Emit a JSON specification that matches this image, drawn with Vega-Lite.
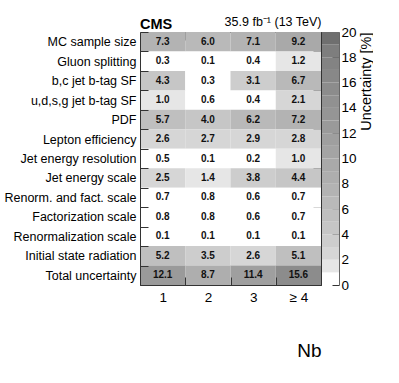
{
  "$schema": "https://vega.github.io/schema/vega-lite/v6.json",
  "background": "white",
  "padding": {"left": 3, "top": 15, "right": 0, "bottom": 0},
  "spacing": 0,
  "config": {
    "view": {"stroke": null},
    "font": "Liberation Sans",
    "axis": {"labelFont": "Liberation Sans", "titleFont": "Liberation Sans", "labelColor": "#000", "titleColor": "#000", "domainColor": "#333", "tickColor": "#333", "grid": false}
  },
  "datasets": {
    "cells": [
      {"row": "MC sample size", "col": "1", "value": 7.3},
      {"row": "MC sample size", "col": "2", "value": 6.0},
      {"row": "MC sample size", "col": "3", "value": 7.1},
      {"row": "MC sample size", "col": "≥ 4", "value": 9.2},
      {"row": "Gluon splitting", "col": "1", "value": 0.3},
      {"row": "Gluon splitting", "col": "2", "value": 0.1},
      {"row": "Gluon splitting", "col": "3", "value": 0.4},
      {"row": "Gluon splitting", "col": "≥ 4", "value": 1.2},
      {"row": "b,c jet b-tag SF", "col": "1", "value": 4.3},
      {"row": "b,c jet b-tag SF", "col": "2", "value": 0.3},
      {"row": "b,c jet b-tag SF", "col": "3", "value": 3.1},
      {"row": "b,c jet b-tag SF", "col": "≥ 4", "value": 6.7},
      {"row": "u,d,s,g jet b-tag SF", "col": "1", "value": 1.0},
      {"row": "u,d,s,g jet b-tag SF", "col": "2", "value": 0.6},
      {"row": "u,d,s,g jet b-tag SF", "col": "3", "value": 0.4},
      {"row": "u,d,s,g jet b-tag SF", "col": "≥ 4", "value": 2.1},
      {"row": "PDF", "col": "1", "value": 5.7},
      {"row": "PDF", "col": "2", "value": 4.0},
      {"row": "PDF", "col": "3", "value": 6.2},
      {"row": "PDF", "col": "≥ 4", "value": 7.2},
      {"row": "Lepton efficiency", "col": "1", "value": 2.6},
      {"row": "Lepton efficiency", "col": "2", "value": 2.7},
      {"row": "Lepton efficiency", "col": "3", "value": 2.9},
      {"row": "Lepton efficiency", "col": "≥ 4", "value": 2.8},
      {"row": "Jet energy resolution", "col": "1", "value": 0.5},
      {"row": "Jet energy resolution", "col": "2", "value": 0.1},
      {"row": "Jet energy resolution", "col": "3", "value": 0.2},
      {"row": "Jet energy resolution", "col": "≥ 4", "value": 1.0},
      {"row": "Jet energy scale", "col": "1", "value": 2.5},
      {"row": "Jet energy scale", "col": "2", "value": 1.4},
      {"row": "Jet energy scale", "col": "3", "value": 3.8},
      {"row": "Jet energy scale", "col": "≥ 4", "value": 4.4},
      {"row": "Renorm. and fact. scale", "col": "1", "value": 0.7},
      {"row": "Renorm. and fact. scale", "col": "2", "value": 0.8},
      {"row": "Renorm. and fact. scale", "col": "3", "value": 0.6},
      {"row": "Renorm. and fact. scale", "col": "≥ 4", "value": 0.7},
      {"row": "Factorization scale", "col": "1", "value": 0.8},
      {"row": "Factorization scale", "col": "2", "value": 0.8},
      {"row": "Factorization scale", "col": "3", "value": 0.6},
      {"row": "Factorization scale", "col": "≥ 4", "value": 0.7},
      {"row": "Renormalization scale", "col": "1", "value": 0.1},
      {"row": "Renormalization scale", "col": "2", "value": 0.1},
      {"row": "Renormalization scale", "col": "3", "value": 0.1},
      {"row": "Renormalization scale", "col": "≥ 4", "value": 0.1},
      {"row": "Initial state radiation", "col": "1", "value": 5.2},
      {"row": "Initial state radiation", "col": "2", "value": 3.5},
      {"row": "Initial state radiation", "col": "3", "value": 2.6},
      {"row": "Initial state radiation", "col": "≥ 4", "value": 5.1},
      {"row": "Total uncertainty", "col": "1", "value": 12.1},
      {"row": "Total uncertainty", "col": "2", "value": 8.7},
      {"row": "Total uncertainty", "col": "3", "value": 11.4},
      {"row": "Total uncertainty", "col": "≥ 4", "value": 15.6}
    ],
    "bands": [
      {"lo": 0, "hi": 1}, {"lo": 1, "hi": 2}, {"lo": 2, "hi": 3}, {"lo": 3, "hi": 4},
      {"lo": 4, "hi": 5}, {"lo": 5, "hi": 6}, {"lo": 6, "hi": 7}, {"lo": 7, "hi": 8},
      {"lo": 8, "hi": 9}, {"lo": 9, "hi": 10}, {"lo": 10, "hi": 11}, {"lo": 11, "hi": 12},
      {"lo": 12, "hi": 13}, {"lo": 13, "hi": 14}, {"lo": 14, "hi": 15}, {"lo": 15, "hi": 16},
      {"lo": 16, "hi": 17}, {"lo": 17, "hi": 18}, {"lo": 18, "hi": 19}, {"lo": 19, "hi": 20}
    ]
  },
  "resolve": {"scale": {"color": "independent"}},
  "hconcat": [
    {
      "width": 181,
      "height": 253,
      "data": {"name": "cells"},
      "title": {"text": "CMS", "anchor": "start", "frame": "group", "fontSize": 14.5, "fontWeight": "bold", "font": "Liberation Sans", "color": "#000", "offset": -17},
      "resolve": {"axis": {"x": "independent", "y": "independent"}},
      "encoding": {
        "x": {"field": "col", "type": "nominal", "sort": ["1", "2", "3", "≥ 4"], "scale": {"paddingInner": 0, "paddingOuter": 0}},
        "y": {"field": "row", "type": "nominal", "sort": ["MC sample size", "Gluon splitting", "b,c jet b-tag SF", "u,d,s,g jet b-tag SF", "PDF", "Lepton efficiency", "Jet energy resolution", "Jet energy scale", "Renorm. and fact. scale", "Factorization scale", "Renormalization scale", "Initial state radiation", "Total uncertainty"], "scale": {"paddingInner": 0, "paddingOuter": 0}}
      },
      "layer": [
        {
          "mark": {"type": "rect"},
          "encoding": {
            "x": {"field": "col", "type": "nominal", "sort": ["1", "2", "3", "≥ 4"], "scale": {"paddingInner": 0, "paddingOuter": 0},
              "axis": {"orient": "bottom", "labelAngle": 0, "labelFontSize": 13.5, "labelPadding": 13, "tickBand": "extent", "tickSize": -8, "title": "Nb", "titleAnchor": "end", "titleFontSize": 19, "titleFontWeight": "normal", "titlePadding": 38}},
            "y": {"field": "row", "type": "nominal", "sort": ["MC sample size", "Gluon splitting", "b,c jet b-tag SF", "u,d,s,g jet b-tag SF", "PDF", "Lepton efficiency", "Jet energy resolution", "Jet energy scale", "Renorm. and fact. scale", "Factorization scale", "Renormalization scale", "Initial state radiation", "Total uncertainty"], "scale": {"paddingInner": 0, "paddingOuter": 0},
              "axis": {"orient": "left", "title": null, "labelFontSize": 12.5, "labelPadding": 12, "labelLimit": 220, "tickBand": "extent", "tickSize": -8}},
            "color": {"field": "value", "type": "quantitative", "legend": null,
              "scale": {"type": "threshold", "domain": [1, 2, 3, 4, 5, 6, 7, 8, 9, 10, 11, 12, 13, 14, 15, 16, 17, 18, 19],
                "range": ["#ffffff", "#e6e6e6", "#d6d6d6", "#cdcdcd", "#c6c6c6", "#bfbfbf", "#b9b9b9", "#b3b3b3", "#aeaeae", "#a9a9a9", "#a4a4a4", "#9f9f9f", "#9a9a9a", "#959595", "#919191", "#8c8c8c", "#888888", "#838383", "#7e7e7e", "#6f6f6f"]}}
          }
        },
        {
          "mark": {"type": "text", "fontWeight": "bold", "fontSize": 10, "font": "Liberation Sans", "color": "#111"},
          "encoding": {
            "x": {"field": "col", "type": "nominal", "sort": ["1", "2", "3", "≥ 4"], "scale": {"paddingInner": 0, "paddingOuter": 0},
              "axis": {"orient": "top", "labels": false, "tickBand": "extent", "tickSize": -8, "title": "35.9 fb⁻¹ (13 TeV)", "titleAnchor": "end", "titleFontSize": 12.5, "titleFontWeight": "normal", "titlePadding": 3}},
            "y": {"field": "row", "type": "nominal", "sort": ["MC sample size", "Gluon splitting", "b,c jet b-tag SF", "u,d,s,g jet b-tag SF", "PDF", "Lepton efficiency", "Jet energy resolution", "Jet energy scale", "Renorm. and fact. scale", "Factorization scale", "Renormalization scale", "Initial state radiation", "Total uncertainty"], "scale": {"paddingInner": 0, "paddingOuter": 0},
              "axis": {"orient": "right", "labels": false, "title": null, "tickBand": "extent", "tickSize": -8}},
            "text": {"field": "value", "type": "quantitative", "format": ".1f"}
          }
        }
      ]
    },
    {
      "width": 17,
      "height": 253,
      "data": {"name": "bands"},
      "mark": {"type": "rect"},
      "encoding": {
        "y": {"field": "lo", "type": "quantitative", "scale": {"domain": [0, 20], "nice": false, "zero": true},
          "axis": {"orient": "right", "values": [0, 2, 4, 6, 8, 10, 12, 14, 16, 18, 20], "tickSize": -7, "labelFontSize": 13.5, "labelPadding": 9, "domainColor": "#666", "title": "Uncertainty [%]", "titleAngle": 270, "titleAnchor": "end", "titleFontSize": 14.5, "titleFontWeight": "normal", "titlePadding": 17}},
        "y2": {"field": "hi"},
        "color": {"field": "lo", "type": "quantitative", "legend": null,
          "scale": {"type": "threshold", "domain": [1, 2, 3, 4, 5, 6, 7, 8, 9, 10, 11, 12, 13, 14, 15, 16, 17, 18, 19],
            "range": ["#ffffff", "#e6e6e6", "#d6d6d6", "#cdcdcd", "#c6c6c6", "#bfbfbf", "#b9b9b9", "#b3b3b3", "#aeaeae", "#a9a9a9", "#a4a4a4", "#9f9f9f", "#9a9a9a", "#959595", "#919191", "#8c8c8c", "#888888", "#838383", "#7e7e7e", "#6f6f6f"]}}
      }
    }
  ]
}
